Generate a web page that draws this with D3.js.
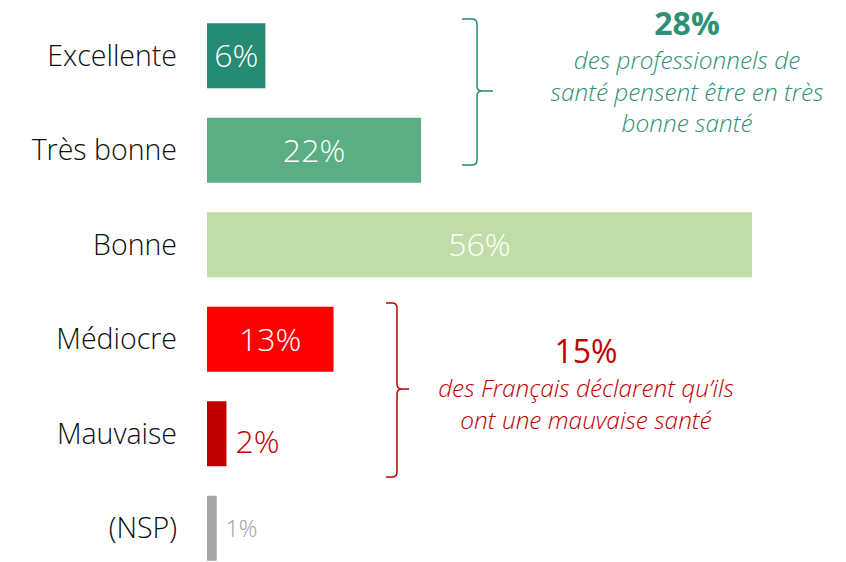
<!DOCTYPE html>
<html><head><meta charset="utf-8">
<script src="https://cdn.jsdelivr.net/npm/d3@7"></script>
<style>
html,body{margin:0;padding:0;background:#fff;}
svg{display:block;font-family:"Open Sans",Lato,sans-serif;}
</style></head>
<body>
<svg id="chart" width="846" height="562"></svg>
<script>
const categories = ["Excellente", "Très bonne", "Bonne", "Médiocre", "Mauvaise", "(NSP)"];
const values = [6, 22, 56, 13, 2, 1];
const colors = ["#268B73", "#5BAD83", "#BFDCA9", "#FF0000", "#C00000", "#A6A6A6"];
const valueLabels = ["6%", "22%", "56%", "13%", "2%", "1%"];
const labelInside = [true, true, true, true, false, false];
const labelColors = ["#fff", "#fff", "#fff", "#fff", "#C00000", "#9E9E9E"];
const groups = [
  {big: "28%", lines: ["des professionnels de", "santé pensent être en très", "bonne santé"], color: "#268B73", textColor: "#2E9175"},
  {big: "15%", lines: ["des Français déclarent qu’ils", "ont une mauvaise santé"], color: "#C00000", textColor: "#C00000"}
];

const svg = d3.select("#chart");
const x = d3.scaleLinear().domain([0, 56]).range([207, 752]);
const y = d3.scaleBand().domain(categories).range([8.5, 575.5]).paddingInner(0.312).paddingOuter(0.156);
const capH = 0.357;

// category labels
const catSize = 28.5;
svg.append("g").selectAll("text").data(categories).join("text")
  .attr("x", 177).attr("y", d => y(d) + y.bandwidth()/2 + capH * catSize)
  .attr("text-anchor", "end")
  .attr("font-size", catSize).attr("font-weight", 300).attr("fill", "#0D0D0D")
  .text(d => d);

// bars
svg.append("g").selectAll("rect").data(categories).join("rect")
  .attr("x", x(0)).attr("y", d => y(d))
  .attr("width", (d, i) => x(values[i]) - x(0))
  .attr("height", y.bandwidth())
  .attr("fill", (d, i) => colors[i]);

// value labels
svg.append("g").selectAll("text").data(categories).join("text")
  .attr("x", (d, i) => labelInside[i] ? (x(0) + x(values[i])) / 2 : x(values[i]) + 9)
  .attr("y", (d, i) => {
    const fs = i === 5 ? 23 : 32;
    const off = (!labelInside[i] && i === 4) ? 8 : (i === 5 ? 1 : 0);
    return y(d) + y.bandwidth()/2 + capH * fs + off;
  })
  .attr("text-anchor", (d, i) => labelInside[i] ? "middle" : "start")
  .attr("font-size", (d, i) => i === 5 ? 23 : 32)
  .attr("font-weight", 300)
  .attr("fill", (d, i) => labelColors[i])
  .text((d, i) => valueLabels[i]);

// brackets and annotations
const bracketCfg = [
  {x0: 462, x1: 477, tip: 493, top: 19, bottom: 165, mid: 91, tx: 687, bigBase: 35, bigW: 700, line0: 69, lh: 31.5},
  {x0: 386, x1: 397, tip: 409, top: 303, bottom: 477, mid: 389, tx: 586, bigBase: 363, bigW: 400, line0: 397, lh: 31.5}
];
groups.forEach((g, k) => {
  const c = bracketCfg[k];
  const r = 5;
  const path = `M${c.x0},${c.top} L${c.x1 - r},${c.top} Q${c.x1},${c.top} ${c.x1},${c.top + r} L${c.x1},${c.mid - r} Q${c.x1},${c.mid} ${c.x1 + r},${c.mid} L${c.tip},${c.mid} M${c.x1 + r},${c.mid} Q${c.x1},${c.mid} ${c.x1},${c.mid + r} L${c.x1},${c.bottom - r} Q${c.x1},${c.bottom} ${c.x1 - r},${c.bottom} L${c.x0},${c.bottom}`;
  svg.append("path").attr("d", path).attr("fill", "none").attr("stroke", g.color).attr("stroke-width", 1.5);
  svg.append("text").attr("x", c.tx).attr("y", c.bigBase).attr("text-anchor", "middle")
    .attr("font-size", 32).attr("font-weight", c.bigW).attr("fill", g.textColor).text(g.big);
  svg.append("g").selectAll("text").data(g.lines).join("text")
    .attr("x", c.tx).attr("y", (d, i) => c.line0 + i * c.lh)
    .attr("text-anchor", "middle")
    .attr("font-size", 24.4).attr("font-style", "italic").attr("font-weight", 300)
    .attr("fill", g.textColor).text(d => d);
});
</script>
</body></html>
